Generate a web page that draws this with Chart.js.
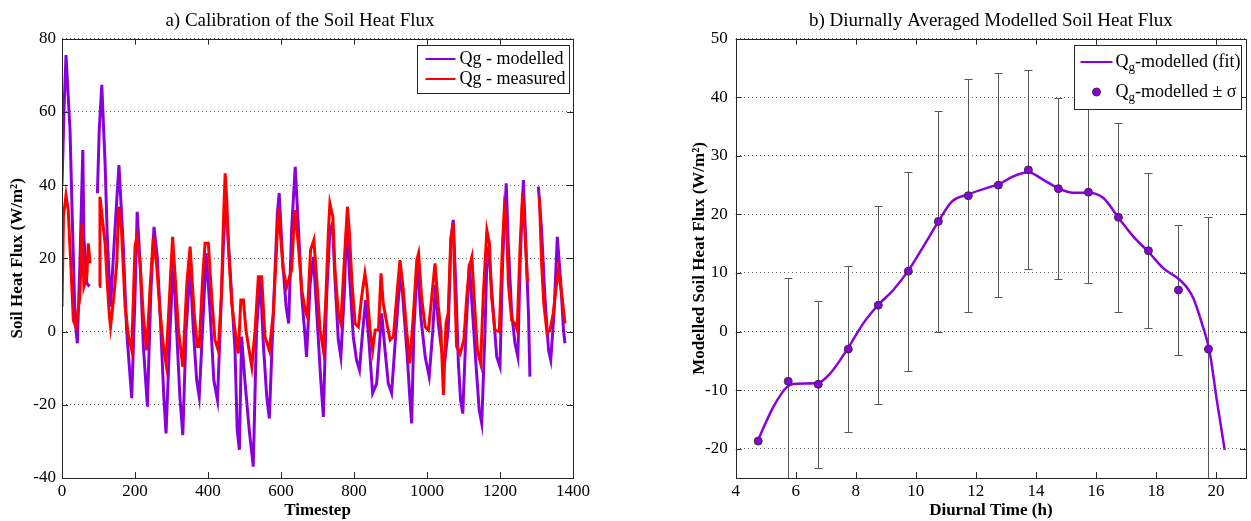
<!DOCTYPE html>
<html><head><meta charset="utf-8">
<script src="https://cdn.jsdelivr.net/npm/chart.js@4.4.1/dist/chart.umd.min.js"></script>
<style>
html,body{margin:0;padding:0;background:#fff;}
#wrap{position:relative;width:1251px;height:521px;overflow:hidden;background:#fff;}
#c1{position:absolute;left:0;top:0;width:600px;height:521px;}
#c2{position:absolute;left:600px;top:0;width:651px;height:521px;}
</style></head><body>
<div id="wrap"><canvas id="c1" width="600" height="521"></canvas><canvas id="c2" width="651" height="521"></canvas></div>
<script>
// ---------- Panel a) data ----------
const modelledT = [0, 6, 11, 22, 29, 36, 42, 49, 57, 60,
 68, 75, 86, 97, 102, 109, 118, 124, 133, 145,
 156, 168, 177, 191, 200, 206, 214, 223, 234, 243,
 252, 261, 270, 279, 285, 296, 305, 314, 323, 331,
 340, 351, 360, 369, 376, 385, 395, 406, 416, 426,
 435, 442, 449, 456, 465, 474, 480, 486, 492, 501,
 513, 524, 533, 543, 552, 561, 568, 579, 590, 595,
 605, 614, 621, 629, 639, 648, 657, 666, 670, 680,
 689, 698, 709, 716, 725, 734, 741, 748, 757, 764,
 773, 780, 789, 798, 807, 815, 824, 832, 842, 851,
 862, 876, 885, 894, 903, 912, 922, 929, 937, 946,
 954, 958, 964, 974, 983, 995, 1006, 1016, 1023, 1031,
 1040, 1049, 1058, 1066, 1072, 1080, 1086, 1092, 1098, 1107,
 1116, 1125, 1134, 1143, 1150, 1159, 1165, 1171, 1182, 1191,
 1200, 1207, 1217, 1223, 1232, 1241, 1249, 1255, 1264, 1271,
 1278, 1282, 1293, 1305, 1314, 1323, 1333, 1339, 1348, 1357,
 1366, 1374, 1378];
const modelledQ = [40, 62, 75.5, 55, 27.7, 3.1, -3.2, 18.6, 49.6, 25.9,
 13.2, 12.3, null, 37.8, 55, 67.4, 46, 26, 6.8, 27.7,
 45.5, 23.2, 0.4, -18.2, 9.5, 32.7, 18.6, -4.1, -20.5, 9.5,
 28.6, 20.4, 2.2, -17.8, -27.8, 0.4, 19.5, 0.4, -17.8, -28.3,
 0.4, 17.3, 0.4, -13.3, -17.8, 0.4, 21.4, 5, -13.3, -18.7,
 5, 23.2, 36.8, 24.1, 9.5, -5.1, -26.9, -32.3, -1.4, -13.3,
 -26.9, -36.9, 0.4, 15, -4.1, -17.8, -23.7, 5, 32.3, 37.8,
 18.6, 6.8, 2.2, 27.7, 45, 27.7, 9.5, -1.4, -6.9, 13.2,
 20.4, 5, -13.3, -23.3, 9.5, 27.7, 29.5, 14.1, -2.3, -6.9,
 9.5, 29.5, 13.2, -1.4, -7.8, -10.5, 0.4, 8.6, -4.1, -16.8,
 -14.2, 5, -5.1, -14.2, -16.8, -4.1, 9.5, 15.9, 5, -6.9,
 -19.6, -25.1, 0.4, 19.5, 4.1, -6.9, -12.3, 0.4, 12.7, 2.2,
 -5.1, -7.8, 0.4, 25.9, 30.5, 9.5, -8.7, -18.7, -22.4, 0.4,
 18.6, 5, -8.7, -21.4, -25.1, 0.4, 23.2, 19.5, 5, -6.9,
 -9.6, 18.6, 40.5, 23.2, 5, -3.2, -6.9, 18.6, 41.4, 23.2,
 5, -12.3, null, 39.6, 27.7, 9.5, -5.1, -7.8, 5, 25.9,
 14.1, 0.4, -3.2];
const measuredT = [0, 4, 11, 17, 24, 31, 38, 49, 55, 60,
 68, 72, 77, 88, 102, 104, 111, 118, 124, 130,
 133, 142, 150, 155, 163, 173, 182, 191, 200, 205,
 214, 223, 232, 241, 250, 259, 269, 278, 285, 296,
 303, 310, 319, 331, 342, 351, 362, 371, 376, 385,
 392, 401, 410, 419, 428, 437, 442, 447, 451, 456,
 465, 474, 483, 490, 497, 504, 511, 520, 529, 538,
 547, 556, 568, 579, 588, 593, 599, 606, 616, 629,
 638, 648, 657, 666, 672, 681, 690, 698, 707, 716,
 723, 730, 734, 742, 748, 757, 764, 773, 782, 787,
 794, 803, 812, 821, 830, 835, 844, 851, 858, 867,
 874, 880, 890, 899, 908, 917, 926, 935, 944, 953,
 963, 972, 977, 985, 995, 1004, 1013, 1022, 1031, 1038,
 1045, 1052, 1058, 1065, 1072, 1077, 1081, 1091, 1101, 1109,
 1116, 1123, 1129, 1138, 1147, 1154, 1164, 1171, 1177, 1186,
 1198, 1207, 1212, 1217, 1223, 1232, 1241, 1247, 1255, 1262,
 1268, 1275, 1280, 1292, 1308, 1314, 1320, 1329, 1337, 1346,
 1353, 1360, 1369, 1378];
const measuredQ = [6.8, 31.4, 37.3, 33.2, 18.6, 3.1, 1.3, 9.5, 29.5, 12.3,
 15, 24.1, 18.6, null, 12.3, 36.8, 30.5, 24.1, 13.2, 4.1,
 1.3, 9.5, 18.6, 34.1, 27.7, 6.8, -1.4, -5.1, 23.2, 25.9,
 18.6, 4.1, -5.1, 11.3, 25.5, 18.6, 5, -4.1, -8.7, 12.3,
 25.9, 15, 0.4, -9.6, 13.2, 23.2, 5, -4.1, -4.1, 14.1,
 24.1, 24.1, 9.5, -2.3, -5.1, 10.4, 29.5, 43.2, 36.8, 23.2,
 7.7, 0.4, -6, 8.6, 8.6, 0.4, -4.1, -9.6, 0.4, 15,
 15, -1.4, -5.1, 5, 23.2, 33.7, 25.9, 16.8, 12.3, 16.8,
 33.2, 23.2, 11.3, 5.9, 4.1, 22.3, 25, 14.1, 0.4, -5.1,
 9.5, 27.7, 35, 31.4, 16.8, 5, 2.2, 18.6, 34.1, 27.7,
 14.1, 2.2, 1.3, 9.5, 15.9, 12.3, 0.4, -5.1, 0.4, 0.4,
 15.9, 7.7, 2.2, -2.3, -1.4, 9.5, 19.5, 11.3, 0.4, -8.7,
 5, 19.5, 21.4, 9.5, 1.3, 0.4, 9.5, 18.6, 6.8, 0.4,
 -17.3, 2.2, 5, 25, 29.5, 9.5, -4.1, -6, -2.3, 9.5,
 17.7, 20.4, 9.5, -5.1, -8.7, 9.5, 27.7, 24.1, 9.5, 0.4,
 0, 24.1, 34.1, 31.4, 13.2, 3.1, 2.2, 0.4, 23.2, 37.8,
 27.7, 14.1, 14.1, null, 36.8, 18.6, 7.7, -0.5, 0.4, 5,
 11.3, 16.8, 10.4, 2.2];

// ---------- Panel b) data ----------
const hourMeans = [4.75, 5.75, 6.75, 7.75, 8.75, 9.75, 10.75, 11.75, 12.75, 13.75, 14.75, 15.75, 16.75, 17.75, 18.75, 19.75];
const meanQ = [-18.7, -8.5, -9.0, -3.0, 4.5, 10.3, 18.8, 23.2, 25.0, 27.6, 24.4, 23.8, 19.5, 13.8, 7.1, -3.0];
const sigmaQ = [0, 17.7, 14.3, 14.2, 16.9, 17.0, 18.9, 19.9, 19.1, 17.0, 15.4, 15.5, 16.1, 13.2, 11.1, 22.5];
const fitH = [4.73, 5.25, 5.72, 6.03, 6.73, 7.14, 7.72, 8.25, 8.73, 9.25, 9.75, 10.25, 10.73, 11.2, 11.73, 12.48, 12.75, 13.25, 13.75, 14.25, 14.77, 15.25, 15.75, 16.25, 16.77, 17.25, 17.77, 18.25, 18.78, 19.02, 19.25, 19.53, 19.78, 20.03, 20.29];
const fitQ = [-18.7, -12.9, -9.4, -8.9, -8.8, -7.2, -3.0, 1.4, 4.45, 7.1, 10.4, 14.5, 18.6, 22.2, 23.4, 24.7, 25.1, 26.5, 27.2, 25.9, 24.4, 23.7, 23.7, 22.8, 19.3, 16.2, 13.5, 10.8, 8.9, 7.6, 5.65, 1.4, -3.2, -11.8, -20.2];

// ---------- ticks ----------
const ticksAx = [0, 200, 400, 600, 800, 1000, 1200, 1400];
const ticksAy = [-40, -20, 0, 20, 40, 60, 80];
const ticksBx = [4, 6, 8, 10, 12, 14, 16, 18, 20];
const ticksBy = [-20, -10, 0, 10, 20, 30, 40, 50];

// ---------- text ----------
const titleA = 'a) Calibration of the Soil Heat Flux';
const titleB = 'b) Diurnally Averaged Modelled Soil Heat Flux';
const xLabelA = 'Timestep';
const yLabelA = 'Soil Heat Flux (W/m\u00B2)';
const xLabelB = 'Diurnal Time (h)';
const yLabelB = 'Modelled Soil Heat Flux (W/m\u00B2)';

const SERIF = '"Liberation Serif", "Times New Roman", serif';
const PURPLE = '#8a00dc';
const RED = '#ff0000';

const toXY = (xs, ys) => xs.map((x, i) => ({x: x, y: ys[i]}));
const setTicks = arr => (s) => { s.ticks = arr.map(v => ({value: v})); };

// frame + inward ticks
const framePlugin = {
  id: 'frame',
  afterDraw(chart) {
    const {ctx, chartArea: a, scales} = chart;
    const x = scales.x, y = scales.y, L = 6;
    ctx.save();
    ctx.strokeStyle = '#262626';
    ctx.lineWidth = 1;
    ctx.beginPath();
    x.ticks.forEach(t => {
      const px = Math.round(x.getPixelForValue(t.value)) + 0.5;
      ctx.moveTo(px, a.bottom); ctx.lineTo(px, a.bottom - L);
      ctx.moveTo(px, a.top); ctx.lineTo(px, a.top + L);
    });
    y.ticks.forEach(t => {
      const py = Math.round(y.getPixelForValue(t.value)) + 0.5;
      ctx.moveTo(a.left, py); ctx.lineTo(a.left + L, py);
      ctx.moveTo(a.right, py); ctx.lineTo(a.right - L, py);
    });
    ctx.stroke();
    ctx.strokeRect(Math.round(a.left) + 0.5, Math.round(a.top) + 0.5, Math.round(a.right - a.left), Math.round(a.bottom - a.top));
    ctx.restore();
  }
};

function drawParts(ctx, parts, x, y) {
  for (const p of parts) {
    ctx.font = (p.sub ? '13px ' : '18px ') + SERIF;
    ctx.fillText(p.t, x, p.sub ? y + 6 : y);
    x += ctx.measureText(p.t).width;
  }
}

// in-axes legend box
const boxLegendPlugin = {
  id: 'boxLegend',
  afterDraw(chart, args, o) {
    if (!o || !o.rows) return;
    const {ctx, chartArea: a} = chart;
    const left = Math.round(a.right - o.fromRight) + 0.5;
    const top = Math.round(a.top + o.top) + 0.5;
    ctx.save();
    ctx.fillStyle = '#fff';
    ctx.fillRect(left, top, o.w, o.h);
    ctx.strokeStyle = '#262626';
    ctx.lineWidth = 1;
    ctx.strokeRect(left, top, o.w, o.h);
    ctx.textBaseline = 'middle';
    ctx.textAlign = 'left';
    o.rows.forEach(r => {
      const ry = top + r.dy;
      if (r.kind === 'line') {
        ctx.strokeStyle = r.color; ctx.lineWidth = r.lw;
        ctx.beginPath(); ctx.moveTo(left + o.s0, ry); ctx.lineTo(left + o.s1, ry); ctx.stroke();
      } else {
        ctx.fillStyle = r.color; ctx.strokeStyle = '#333'; ctx.lineWidth = 1;
        ctx.beginPath(); ctx.arc(left + (o.s0 + o.s1) / 2, ry, 4, 0, Math.PI * 2); ctx.fill(); ctx.stroke();
      }
      ctx.fillStyle = '#000';
      drawParts(ctx, r.parts, left + o.tx, ry);
    });
    ctx.restore();
  }
};

// error bars (mean ± sigma)
const errorBarPlugin = {
  id: 'errBars',
  beforeDatasetsDraw(chart) {
    const {ctx, chartArea: a, scales: {x, y}} = chart;
    ctx.save();
    ctx.beginPath(); ctx.rect(a.left, a.top, a.right - a.left, a.bottom - a.top); ctx.clip();
    ctx.strokeStyle = '#555';
    ctx.lineWidth = 1;
    ctx.beginPath();
    hourMeans.forEach((h, i) => {
      if (!sigmaQ[i]) return;
      const px = Math.round(x.getPixelForValue(h)) + 0.5;
      const y1 = Math.round(y.getPixelForValue(meanQ[i] + sigmaQ[i])) + 0.5;
      const y2 = Math.round(y.getPixelForValue(meanQ[i] - sigmaQ[i])) + 0.5;
      ctx.moveTo(px, y1); ctx.lineTo(px, y2);
      ctx.moveTo(px - 4, y1); ctx.lineTo(px + 4, y1);
      ctx.moveTo(px - 4, y2); ctx.lineTo(px + 4, y2);
    });
    ctx.stroke();
    ctx.restore();
  }
};

const tickFont = {family: SERIF, size: 17};
const labFont = {family: SERIF, size: 17, weight: 'bold'};
const gridY = {color: 'rgba(0,0,0,0.6)', lineWidth: 1, drawTicks: false};
const gridX = {display: false, drawTicks: false};

new Chart(document.getElementById('c1'), {
  type: 'line',
  data: {datasets: [
    {label: 'Qg - modelled', data: toXY(modelledT, modelledQ), borderColor: PURPLE, backgroundColor: PURPLE, borderWidth: 3, pointRadius: 0, tension: 0, order: 2},
    {label: 'Qg - measured', data: toXY(measuredT, measuredQ), borderColor: RED, backgroundColor: RED, borderWidth: 3, pointRadius: 0, tension: 0, order: 1}
  ]},
  options: {
    responsive: false, animation: false, events: [],
    layout: {padding: {left: 27, right: 27, top: 0, bottom: 0}},
    plugins: {
      legend: {display: false}, tooltip: {enabled: false},
      title: {display: true, text: titleA, color: '#000', font: {family: SERIF, size: 19, weight: 'normal', lineHeight: 1.2}, padding: {top: 9.7, bottom: 6.2}},
      boxLegend: {fromRight: 156, top: 6, w: 152, h: 48, s0: 8, s1: 38, tx: 42, rows: [
        {kind: 'line', color: PURPLE, lw: 2, dy: 13.5, parts: [{t: 'Qg - modelled'}]},
        {kind: 'line', color: RED, lw: 2, dy: 33.5, parts: [{t: 'Qg - measured'}]}
      ]}
    },
    scales: {
      x: {type: 'linear', min: 0, max: 1400, afterBuildTicks: setTicks(ticksAx),
        ticks: {font: tickFont, color: '#000', padding: 3, maxRotation: 0, autoSkip: false, callback: v => String(v)},
        grid: gridX, border: {display: false},
        title: {display: true, text: xLabelA, color: '#000', font: labFont, padding: {top: 0, bottom: 0.5}},
        afterFit(s) { s.height = 43; }},
      y: {type: 'linear', min: -40, max: 80, afterBuildTicks: setTicks(ticksAy),
        ticks: {font: tickFont, color: '#000', padding: 6, callback: v => String(v)},
        grid: gridY, border: {display: false, dash: [1, 3]},
        title: {display: true, text: yLabelA, color: '#000', font: labFont, padding: {top: -19.2, bottom: 0}},
        afterFit(s) { s.width = 35; }}
    }
  },
  plugins: [framePlugin, boxLegendPlugin]
});

new Chart(document.getElementById('c2'), {
  type: 'line',
  data: {datasets: [
    {label: 'Qg-modelled (fit)', data: toXY(fitH, fitQ), borderColor: PURPLE, backgroundColor: PURPLE, borderWidth: 2.5, pointRadius: 0, cubicInterpolationMode: 'monotone', order: 2},
    {label: 'Qg-modelled \u00B1 \u03C3', data: toXY(hourMeans, meanQ), showLine: false, pointRadius: 4, pointBackgroundColor: PURPLE, pointBorderColor: '#333', pointBorderWidth: 1, borderColor: PURPLE, order: 1}
  ]},
  options: {
    responsive: false, animation: false, events: [],
    layout: {padding: {left: 0, right: 5, top: 0, bottom: 0}},
    plugins: {
      legend: {display: false}, tooltip: {enabled: false},
      title: {display: true, fullSize: false, text: titleB, color: '#000', font: {family: SERIF, size: 19, weight: 'normal', lineHeight: 1.2}, padding: {top: 9.7, bottom: 6.2}},
      boxLegend: {fromRight: 172, top: 6, w: 167, h: 64, s0: 6, s1: 38, tx: 41, rows: [
        {kind: 'line', color: PURPLE, lw: 2, dy: 16.5, parts: [{t: 'Q'}, {t: 'g', sub: true}, {t: '-modelled (fit)'}]},
        {kind: 'dot', color: PURPLE, dy: 46.5, parts: [{t: 'Q'}, {t: 'g', sub: true}, {t: '-modelled \u00B1 \u03C3'}]}
      ]}
    },
    scales: {
      x: {type: 'linear', min: 4, max: 21, afterBuildTicks: setTicks(ticksBx),
        ticks: {font: tickFont, color: '#000', padding: 3, maxRotation: 0, autoSkip: false, callback: v => String(v)},
        grid: gridX, border: {display: false},
        title: {display: true, text: xLabelB, color: '#000', font: labFont, padding: {top: 0, bottom: 0.5}},
        afterFit(s) { s.height = 43; }},
      y: {type: 'linear', min: -25, max: 50, afterBuildTicks: setTicks(ticksBy),
        ticks: {font: tickFont, color: '#000', padding: 8, callback: v => String(v)},
        grid: gridY, border: {display: false, dash: [1, 3]},
        title: {display: true, text: yLabelB, color: '#000', font: labFont, padding: {top: 89, bottom: 0}},
        afterFit(s) { s.width = 135.7; }}
    }
  },
  plugins: [errorBarPlugin, framePlugin, boxLegendPlugin]
});
</script>
</body></html>
